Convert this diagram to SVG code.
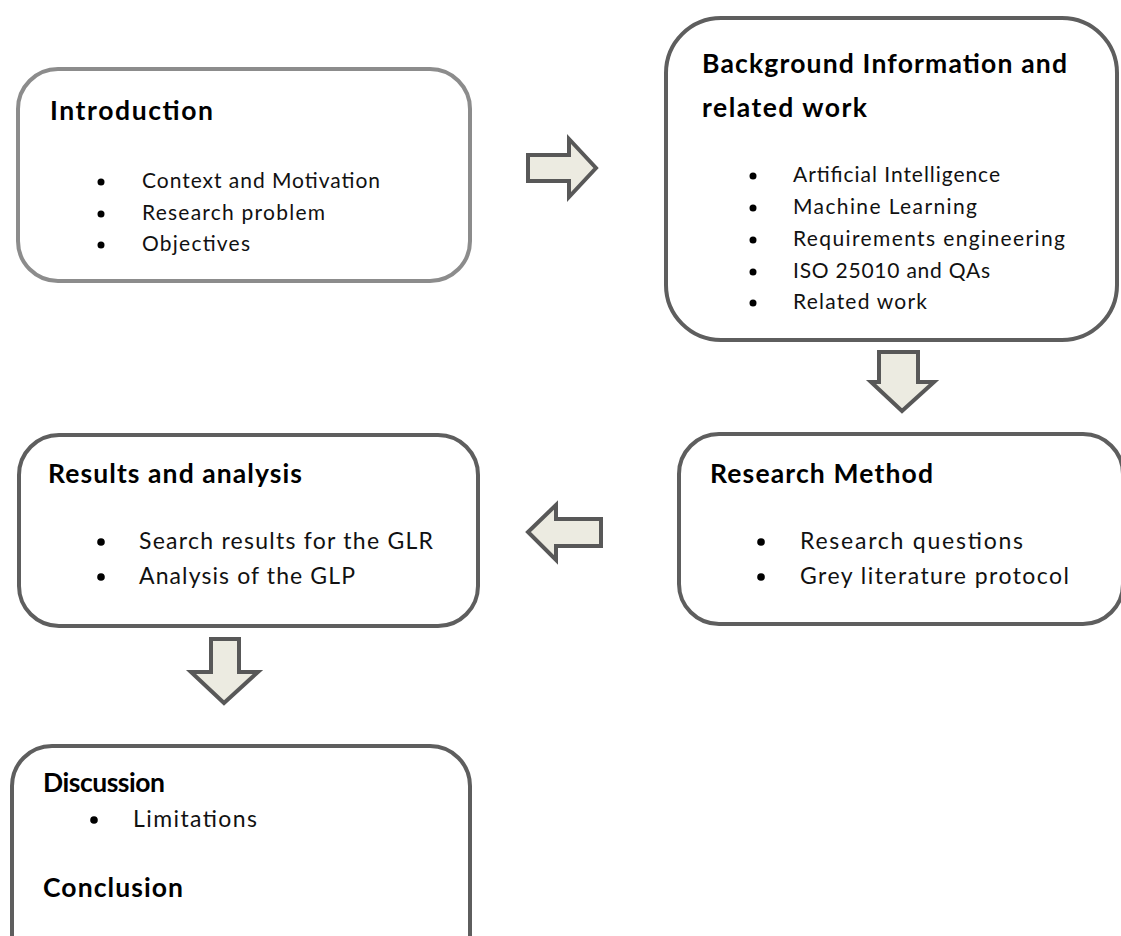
<svg xmlns="http://www.w3.org/2000/svg" width="1121" height="936" viewBox="0 0 1121 936">
<style>
.box{fill:#fff;stroke:#5e5e5e;stroke-width:4}
.box.light{stroke:#8c8c8c}
.h{font-family:Lato,"Open Sans","Liberation Sans",sans-serif;font-weight:bold;font-size:26.5px;fill:#000}
.t{font-family:Lato,"Open Sans","Liberation Sans",sans-serif;font-size:21px;fill:#111}
.t.big{font-size:23px}
.dot{fill:#000}
.arrow{fill:#ecebe1;stroke:#585858;stroke-width:4;stroke-linejoin:miter}
</style>
<rect width="1121" height="936" fill="#fff"/>

<g id="introduction">
<rect class="box light" x="18" y="69" width="452" height="212" rx="40"/>
<text class="h" x="50" y="120" textLength="163" lengthAdjust="spacing">Introduction</text>
<circle class="dot" cx="101" cy="182" r="3.5"/>
<text class="t" x="142" y="188" textLength="238" lengthAdjust="spacing">Context and Motivation</text>
<circle class="dot" cx="101" cy="214" r="3.5"/>
<text class="t" x="142" y="220" textLength="183" lengthAdjust="spacing">Research problem</text>
<circle class="dot" cx="101" cy="245" r="3.5"/>
<text class="t" x="142" y="251" textLength="108" lengthAdjust="spacing">Objectives</text>
</g>

<g id="background">
<rect class="box" x="666" y="18" width="451" height="322" rx="55"/>
<text class="h" x="702" y="73" textLength="365" lengthAdjust="spacing">Background Information and</text>
<text class="h" x="702" y="117" textLength="165" lengthAdjust="spacing">related work</text>
<circle class="dot" cx="753" cy="176" r="3.5"/>
<text class="t" x="793" y="182" textLength="207" lengthAdjust="spacing">Artificial Intelligence</text>
<circle class="dot" cx="753" cy="208" r="3.5"/>
<text class="t" x="793" y="214" textLength="184" lengthAdjust="spacing">Machine Learning</text>
<circle class="dot" cx="753" cy="240" r="3.5"/>
<text class="t" x="793" y="246" textLength="272" lengthAdjust="spacing">Requirements engineering</text>
<circle class="dot" cx="753" cy="272" r="3.5"/>
<text class="t" x="793" y="278" textLength="197" lengthAdjust="spacing">ISO 25010 and QAs</text>
<circle class="dot" cx="753" cy="303" r="3.5"/>
<text class="t" x="793" y="309" textLength="134" lengthAdjust="spacing">Related work</text>
</g>

<g id="research-method">
<rect class="box" x="679" y="434" width="444" height="190" rx="40"/>
<text class="h" x="710" y="483" textLength="223" lengthAdjust="spacing">Research Method</text>
<circle class="dot" cx="761" cy="542" r="3.8"/>
<text class="t big" x="800" y="549" textLength="223" lengthAdjust="spacing">Research questions</text>
<circle class="dot" cx="761" cy="577" r="3.8"/>
<text class="t big" x="800" y="584" textLength="269" lengthAdjust="spacing">Grey literature protocol</text>
</g>

<g id="results">
<rect class="box" x="19" y="435" width="459" height="191" rx="40"/>
<text class="h" x="48" y="483" textLength="254" lengthAdjust="spacing">Results and analysis</text>
<circle class="dot" cx="101" cy="542" r="3.8"/>
<text class="t big" x="139" y="549" textLength="294" lengthAdjust="spacing">Search results for the GLR</text>
<circle class="dot" cx="101" cy="577" r="3.8"/>
<text class="t big" x="139" y="584" textLength="216" lengthAdjust="spacing">Analysis of the GLP</text>
</g>

<g id="discussion">
<rect class="box" x="12" y="746" width="458" height="240" rx="40"/>
<text class="h" x="43" y="792" textLength="122" lengthAdjust="spacing">Discussion</text>
<circle class="dot" cx="94" cy="820" r="3.8"/>
<text class="t big" x="133" y="827" textLength="124" lengthAdjust="spacing">Limitations</text>
<text class="h" x="43" y="897" textLength="140" lengthAdjust="spacing">Conclusion</text>
</g>

<g id="connectors">
<polygon class="arrow" points="528,155 569,155 569,139 596,168 569,197 569,181 528,181"/>
<polygon class="arrow" points="879,352 918,352 918,382 934,382 902,411 871,382 879,382"/>
<polygon class="arrow" points="601,519 556,519 556,505 528,532 556,560 556,546 601,546"/>
<polygon class="arrow" points="211,639 239,639 239,672 258,672 224,703 191,672 211,672"/>
</g>
</svg>
